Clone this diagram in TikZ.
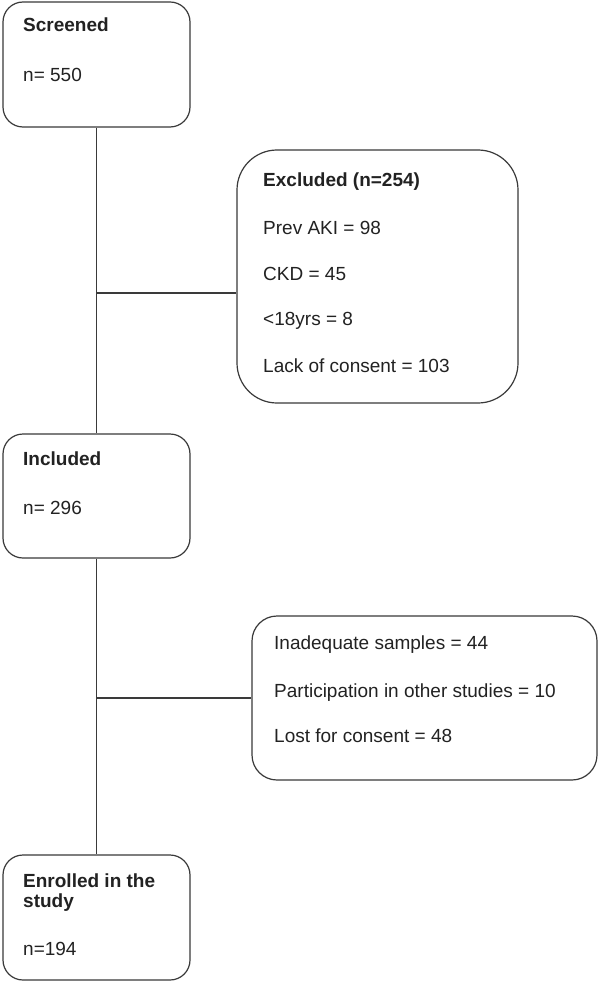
\documentclass[tikz,border=0pt]{standalone}
\usepackage{fontspec}
\setmainfont{Liberation Sans}
\definecolor{linegray}{HTML}{3A3A3A}
\definecolor{txtgray}{HTML}{222222}
\begin{document}
\begin{tikzpicture}[x=1pt,y=-1pt,
  box/.style={draw=linegray, line width=1.2pt, rounded corners=20pt, inner sep=0pt, fill=white},
  lbl/.style={anchor=base west, inner sep=0pt, font=\fontsize{19}{22}\selectfont, text=txtgray},
  hd/.style={anchor=base west, inner sep=0pt, font=\fontsize{19}{22}\selectfont\bfseries, text=txtgray},
  conn/.style={draw=linegray, line width=1.2pt}]
\useasboundingbox[fill=white] (0,0) rectangle (600,984);
% boxes
\node[box, minimum width=187pt, minimum height=125pt] (scr) at (96.5,64.5) {};
\node[box, rounded corners=40pt, minimum width=281pt, minimum height=253pt] (exc) at (377.5,276.5) {};
\node[box, minimum width=187pt, minimum height=124pt] (inc) at (96.5,496) {};
\node[box, rounded corners=25pt, minimum width=345pt, minimum height=164pt] (oth) at (424.5,698) {};
\node[box, minimum width=187pt, minimum height=125pt] (enr) at (96.5,917.5) {};
% junctions
\coordinate (j1) at (96.5,293);
\coordinate (j2) at (96.5,698);
% connectors
\draw[conn] (scr.south) -- (inc.north);
\draw[conn] (inc.south) -- (enr.north);
\draw[conn] (j1) -- (j1 -| exc.west);
\draw[conn] (j2) -- (j2 -| oth.west);
% texts
\node[hd] (t1) at (23,32) {Screened};
\node[lbl] (t2) at (23,82) {n= 550};
\node[hd] (t3) at (263,187) {Excluded (n=254)};
\node[lbl] (t4) at (263,234) {Prev AKI = 98};
\node[lbl] (t5) at (263,280) {CKD = 45};
\node[lbl] (t6) at (263,325) {<18yrs = 8};
\node[lbl] (t7) at (263,372) {Lack of consent = 103};
\node[hd] (t8) at (23,465) {Included};
\node[lbl] (t9) at (23,514) {n= 296};
\node[lbl] (t10) at (274,649) {Inadequate samples = 44};
\node[lbl] (t11) at (274,697) {Participation in other studies = 10};
\node[lbl] (t12) at (274,742) {Lost for consent = 48};
\node[hd] (t13) at (23,887) {Enrolled in the};
\node[hd] (t14) at (23,907) {study};
\node[lbl] (t15) at (23,955) {n=194};
\end{tikzpicture}
\end{document}
